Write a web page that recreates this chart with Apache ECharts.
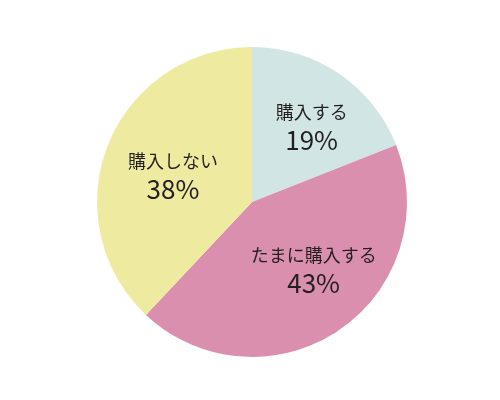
<!DOCTYPE html>
<html><head><meta charset="utf-8">
<script src="https://cdn.jsdelivr.net/npm/echarts@6/dist/echarts.min.js"></script>
<style>html,body{margin:0;padding:0;background:#fff}#c{width:500px;height:400px}</style>
</head><body><div id="c"></div>
<script>
const categories = ['購入する', 'たまに購入する', '購入しない'];
const values = [19, 43, 38];
const colors = ['#d1e5e5', '#db8fae', '#eeeba1'];
const labelShifts = [[4, 7], [6, -14], [13, 11]];

const data = categories.map((n, i) => ({ name: n, value: values[i], itemStyle: { color: colors[i] } }));
const chart = echarts.init(document.getElementById('c'));
const center = [252, 202];
chart.setOption({
  animation: false,
  series: [
    {
      type: 'pie', center: center, radius: 155, startAngle: 90, clockwise: true,
      silent: true, label: { show: false }, labelLine: { show: false },
      data: data
    },
    {
      type: 'pie', center: center, radius: 192, startAngle: 90, clockwise: true,
      silent: true, itemStyle: { color: 'rgba(0,0,0,0)' },
      label: {
        show: true, position: 'inside', color: '#231f20',
        fontFamily: '"Noto Sans CJK JP", "Noto Sans", sans-serif',
        formatter: p => '{a|' + p.name + '}\n{b|' + p.value + '%}',
        rich: {
          a: { fontSize: 18, lineHeight: 26, color: '#231f20', fontFamily: '"Noto Sans CJK JP", sans-serif' },
          b: { fontSize: 26, lineHeight: 30, color: '#231f20', fontFamily: '"Noto Sans CJK JP", sans-serif' }
        }
      },
      labelLine: { show: false },
      data: categories.map((n, i) => ({ name: n, value: values[i], label: { offset: labelShifts[i] } }))
    }
  ]
});
</script></body></html>
